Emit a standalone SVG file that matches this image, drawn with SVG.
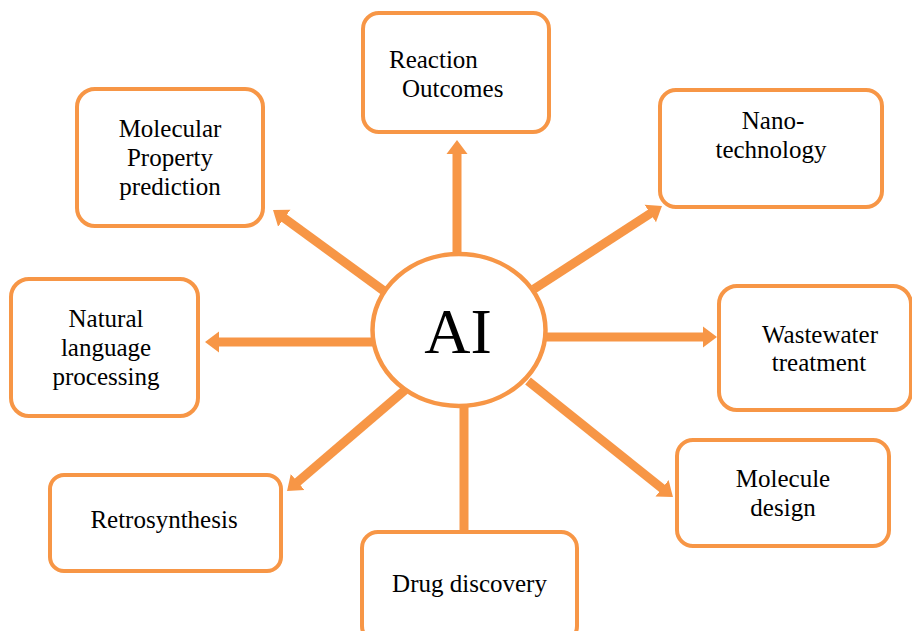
<svg xmlns="http://www.w3.org/2000/svg" width="912" height="631" viewBox="0 0 912 631">
<style>
.box{fill:#fff;stroke:#F79646;stroke-width:4}
.t{font-family:"Liberation Serif","Times New Roman",serif;font-size:25px;fill:#000;text-anchor:middle}
.s{text-anchor:start}
.c{stroke:#F79646;stroke-width:9;fill:none}
</style>
<defs>
<marker id="ah" viewBox="-1 -11 15 22" markerWidth="15" markerHeight="22" refX="0" refY="0" orient="auto" markerUnits="userSpaceOnUse">
<path d="M-1,-10.5 L13,0 L-1,10.5 z" fill="#F79646"/>
</marker>
</defs>
<rect width="912" height="631" fill="#fff"/>
<g id="connectors">
<line class="c" x1="457" y1="254" x2="457" y2="153" marker-end="url(#ah)"/>
<line class="c" x1="384" y1="291" x2="283.5" y2="217.6" marker-end="url(#ah)"/>
<line class="c" x1="534" y1="289" x2="651.1" y2="213" marker-end="url(#ah)"/>
<line class="c" x1="373" y1="342" x2="218" y2="342" marker-end="url(#ah)"/>
<line class="c" x1="546" y1="337" x2="704" y2="337" marker-end="url(#ah)"/>
<line class="c" x1="405" y1="390" x2="296.9" y2="482.6" marker-end="url(#ah)"/>
<line class="c" x1="528" y1="381" x2="662.8" y2="488.9" marker-end="url(#ah)"/>
<line class="c" x1="464" y1="405" x2="464" y2="532"/>
</g>
<g id="ai">
<ellipse cx="459" cy="330" rx="86.5" ry="76" fill="#fff" stroke="#F79646" stroke-width="4.5"/>
<text x="458" y="353" font-family="Liberation Serif, serif" font-size="64" text-anchor="middle">AI</text>
</g>
<g id="reaction">
<rect class="box" x="363" y="13" width="186" height="119" rx="16"/>
<text class="t s" x="389" y="68">Reaction</text>
<text class="t s" x="402" y="97">Outcomes</text>
</g>
<g id="molprop">
<rect class="box" x="77" y="89" width="186" height="137" rx="18"/>
<text class="t" x="170" y="137">Molecular</text>
<text class="t" x="170" y="166">Property</text>
<text class="t" x="170" y="195">prediction</text>
</g>
<g id="nano">
<rect class="box" x="660" y="90" width="222" height="117" rx="16"/>
<text class="t" x="773" y="129">Nano-</text>
<text class="t" x="771" y="158">technology</text>
</g>
<g id="nlp">
<rect class="box" x="11" y="279" width="187" height="137" rx="18"/>
<text class="t" x="106" y="327">Natural</text>
<text class="t" x="106" y="356">language</text>
<text class="t" x="106" y="385">processing</text>
</g>
<g id="wastewater">
<rect class="box" x="719" y="286" width="192" height="124" rx="18"/>
<text class="t" x="820" y="343">Wastewater</text>
<text class="t" x="819" y="371">treatment</text>
</g>
<g id="moldesign">
<rect class="box" x="677" y="440" width="212" height="106" rx="16"/>
<text class="t" x="783" y="487">Molecule</text>
<text class="t" x="783" y="516">design</text>
</g>
<g id="retro">
<rect class="box" x="50" y="475" width="231" height="96" rx="14"/>
<text class="t" x="164" y="528">Retrosynthesis</text>
</g>
<g id="drug">
<rect class="box" x="362" y="532" width="215" height="110" rx="16"/>
<text class="t" x="469.5" y="592">Drug discovery</text>
</g>
</svg>
